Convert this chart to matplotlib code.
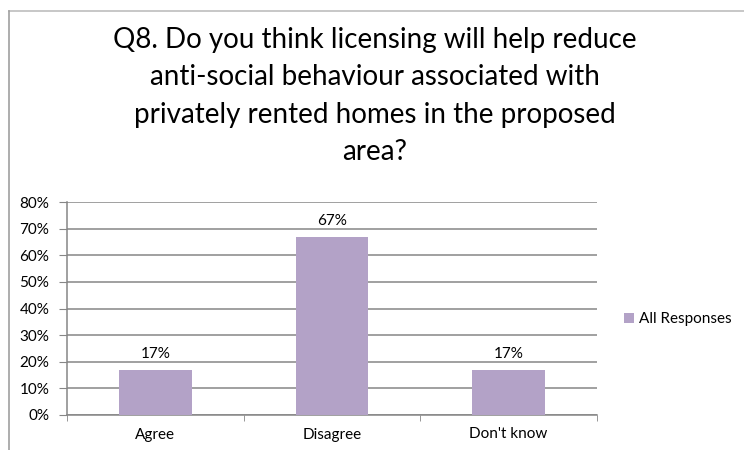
import matplotlib.pyplot as plt
from matplotlib.lines import Line2D
import numpy as np

# Survey results for Q8
categories = ['Agree', 'Disagree', "Don't know"]
all_responses = [17, 67, 17]
y_ticks = [0, 10, 20, 30, 40, 50, 60, 70, 80]
series_name = 'All Responses'
title_lines = ['Q8. Do you think licensing will help reduce',
               'anti-social behaviour associated with',
               'privately rented homes in the proposed',
               'area?']

bar_color = '#B3A2C7'
grid_color = '#868686'

plt.rcParams['font.family'] = ['Lato', 'DejaVu Sans']

fig = plt.figure(figsize=(7.44, 4.5), dpi=100)
fig.patch.set_facecolor('white')

# chart frame (only top and left edges are visible)
fig.add_artist(Line2D([9 / 744, 1.0], [1 - 11 / 450, 1 - 11 / 450], transform=fig.transFigure,
                      color='#BDBDBD', lw=1.2))
fig.add_artist(Line2D([9 / 744, 9 / 744], [0.0, 1 - 11 / 450], transform=fig.transFigure,
                      color='#A0A0A0', lw=1.2))

fig.text(0.504, 1 - 96 / 450, '\n'.join(title_lines), ha='center', va='center',
         fontsize=20, linespacing=1.55)

ax = fig.add_axes([67 / 744, 35 / 450, 530 / 744, 213 / 450])
x = np.arange(len(categories))
bars = ax.bar(x, all_responses, width=0.41, color=bar_color, label=series_name, zorder=3)

for rect, val in zip(bars, all_responses):
    ax.annotate(f'{val}%', (rect.get_x() + rect.get_width() / 2, rect.get_height()),
                xytext=(0, 8.6), textcoords='offset points', ha='center', va='baseline',
                fontsize=11)

ax.set_xlim(-0.5, len(categories) - 0.5)
ax.set_ylim(0, 80)
ax.set_yticks(y_ticks)
ax.set_yticklabels([f'{t}%' for t in y_ticks])
ax.set_xticks(x)
ax.set_xticklabels(categories)
ax.set_xticks(np.arange(len(categories) + 1) - 0.5, minor=True)

ax.yaxis.grid(True, color=grid_color, lw=1.1, zorder=0)
ax.set_axisbelow(True)
for side in ['top', 'right']:
    ax.spines[side].set_visible(False)
for side in ['left', 'bottom']:
    ax.spines[side].set_color(grid_color)
    ax.spines[side].set_linewidth(1.1)

ax.tick_params(axis='y', length=5.8, color=grid_color, labelsize=11, pad=7)
ax.tick_params(axis='x', which='major', length=0, labelsize=11, pad=9)
ax.tick_params(axis='x', which='minor', length=4.5, color=grid_color)

ax.legend(loc='center left', bbox_to_anchor=(1.025, 0.45), frameon=False, fontsize=11,
          handlelength=0.65, handleheight=0.65, handletextpad=0.35)

fig.savefig('out.png', dpi=100)
